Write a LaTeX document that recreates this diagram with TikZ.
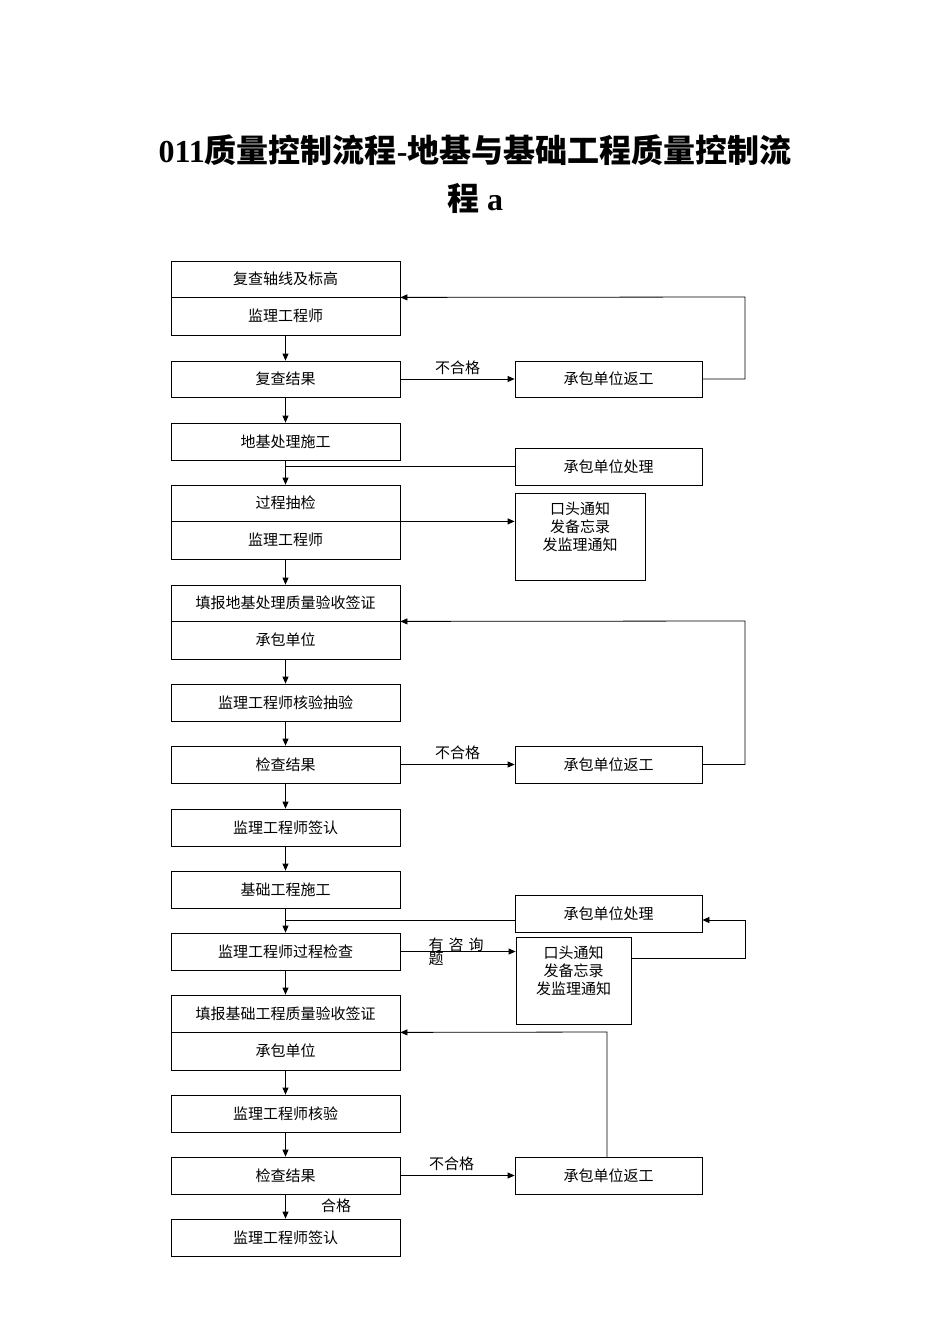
\documentclass[tikz,border=0pt]{standalone}
\usepackage{fontspec}
\setmainfont{Liberation Serif}
\newfontfamily\cjk{Noto Sans CJK SC}
\usetikzlibrary{arrows.meta}
\begin{document}
\begin{tikzpicture}[x=1pt,y=-1pt,
 bx/.style={draw,line width=0.8pt,inner sep=0pt,font=\cjk\fontsize{15}{18}\selectfont},
 ar/.style={-{Triangle[length=7pt,width=6pt]},line width=0.8pt},
 ln/.style={line width=0.8pt},
 lb/.style={font=\cjk\fontsize{15}{18}\selectfont}]
\useasboundingbox (0,0) rectangle (950,1344);
\node[font=\bfseries\fontsize{32}{38}\selectfont] (t1) at (475,150) {011{\cjk\bfseries 质量控制流程}-{\cjk\bfseries 地基与基础工程质量控制流}};
\node[font=\bfseries\fontsize{32}{38}\selectfont] (t2) at (475,198) {{\cjk\bfseries 程} a};
% left column
\def\lb#1#2#3#4{\node[bx,minimum width=229pt,minimum height=#3pt] (#1) at (285.5,#4) {#2};}
\lb{a1}{复查轴线及标高}{36}{279}
\lb{a2}{监理工程师}{38}{316}
\lb{b}{复查结果}{36}{379}
\lb{c}{地基处理施工}{37}{441.5}
\lb{d1}{过程抽检}{36}{503}
\lb{d2}{监理工程师}{38}{540}
\lb{e1}{填报地基处理质量验收签证}{36}{603}
\lb{e2}{承包单位}{38}{640}
\lb{f}{监理工程师核验抽验}{37}{702.5}
\lb{g}{检查结果}{37}{764.5}
\lb{h}{监理工程师签认}{37}{827.5}
\lb{i}{基础工程施工}{37}{889.5}
\lb{j}{监理工程师过程检查}{37}{951.5}
\lb{k1}{填报基础工程质量验收签证}{37}{1013.5}
\lb{k2}{承包单位}{38}{1051}
\lb{l}{监理工程师核验}{37}{1113.5}
\lb{m}{检查结果}{37}{1175.5}
\lb{n}{监理工程师签认}{37}{1237.5}
% right boxes
\def\rb#1#2#3#4{\node[bx,minimum width=187pt,minimum height=#3pt] (#1) at (608.5,#4) {#2};}
\rb{r1}{承包单位返工}{36}{379}
\rb{r2}{承包单位处理}{37}{466.5}
\rb{r4}{承包单位返工}{37}{764.5}
\rb{r5}{承包单位处理}{37}{913.5}
\rb{r7}{承包单位返工}{37}{1175.5}
\node[bx,minimum width=130pt,minimum height=87pt] (r3) at (580,536.5) {};
\node[lb,align=center,anchor=north] (r3t) at (580,498) {口头通知\\发备忘录\\发监理通知};
\node[bx,minimum width=115pt,minimum height=87pt] (r6) at (573.5,980.5) {};
\node[lb,align=center,anchor=north] (r6t) at (573.5,942) {口头通知\\发备忘录\\发监理通知};
% vertical arrows
\foreach \p/\q in {a2/b,b/c,d2/e1,e2/f,f/g,g/h,h/i,j/k1,k2/l,l/m,m/n}
  \draw[ar] (\p.south) -- (\q.north);
\draw[ar] (c.south) -- (d1.north);
\draw[ar] (i.south) -- (j.north);
% right connections
\coordinate (c1) at (745,379); \coordinate (c2) at (745,297);
\draw[ar] (b.east) -- (r1.west) node[lb,midway,above=1pt] {不合格};
\draw[ar] (r1.east) -- (c1) -- (c2) -- (a1.south east);
\coordinate (c3) at (286,466.5);
\draw[ln] (r2.west) -- (c3);
\draw[ar] (d1.south east) -- (r3.west |- d1.south east);
\coordinate (c4) at (745,764.5); \coordinate (c5) at (745,621);
\draw[ar] (g.east) -- (r4.west) node[lb,midway,above=1pt] {不合格};
\draw[ar] (r4.east) -- (c4) -- (c5) -- (e1.south east);
\coordinate (c6) at (286,920);
\draw[ln] (r5.west |- c6) -- (c6);
\draw[ar] (j.east) -- (r6.west |- j.east);
\node[lb,anchor=north west,align=left,text width=90pt] (q) at (425,934) {有\ 咨\ 询\\[-4pt]题};
\coordinate (c7) at (745,958); \coordinate (c8) at (745,920);
\draw[ar] (r6.east |- c7) -- (c7) -- (c8) -- (r5.east |- c8);
\coordinate (c9) at (607,1032);
\draw[ar] (607,1157) -- (c9) -- (k1.south east);
\draw[ar] (m.east) -- (r7.west) node[lb,midway,above=1pt,xshift=-6pt] {不合格};
\node[lb] (hg) at (336,1206) {合格};
\end{tikzpicture}
\end{document}
